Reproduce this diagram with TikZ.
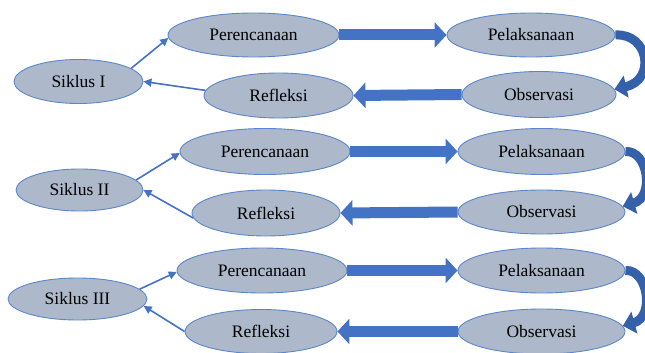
\documentclass[tikz,border=0pt]{standalone}
\usepackage{fontspec}
\setmainfont{Liberation Serif}
\usetikzlibrary{shapes.geometric,arrows.meta}
\definecolor{ellfill}{HTML}{ADB9CA}
\definecolor{elldraw}{HTML}{5B86CC}
\definecolor{thick}{HTML}{4472C4}
\definecolor{curve}{HTML}{3561AA}
\tikzset{
  ell/.style={ellipse, draw=elldraw, fill=ellfill, line width=0.9pt, inner sep=0pt,
    font=\fontsize{17.5}{20}\selectfont, text=black},
  thinarrow/.style={draw=thick, line width=1.6pt, -{Triangle[length=8pt,width=8pt]}},
  blockarrow/.style={draw=thick, line width=11pt, -{Triangle[length=12pt,width=25pt]}},
  curvearrow/.style={draw=curve, line width=9pt, -{Triangle[length=12pt,width=22pt]}}
}
\begin{document}
\begin{tikzpicture}[x=1pt,y=-1pt]
\useasboundingbox (0,0) rectangle (645,353);
% cycle I
\node[ell, minimum width=129pt, minimum height=44pt] (S1) at (78.5,81.5) {Siklus I};
\node[ell, minimum width=171pt, minimum height=44pt] (P1) at (253.5,35) {Perencanaan};
\node[ell, minimum width=149pt, minimum height=45pt] (R1) at (278.5,95.5) {Refleksi};
\node[ell, minimum width=168pt, minimum height=44pt] (L1) at (531,35) {Pelaksanaan};
\node[ell, minimum width=154pt, minimum height=46pt] (O1) at (539,94.5) {Observasi};
% cycle II
\node[ell, minimum width=127pt, minimum height=42pt] (S2) at (79.5,190) {Siklus II};
\node[ell, minimum width=170pt, minimum height=46pt] (P2) at (265,151.5) {Perencanaan};
\node[ell, minimum width=148pt, minimum height=46pt] (R2) at (266,213) {Refleksi};
\node[ell, minimum width=167pt, minimum height=46pt] (L2) at (541.5,151.5) {Pelaksanaan};
\node[ell, minimum width=167pt, minimum height=44pt] (O2) at (541.5,212) {Observasi};
% cycle III
\node[ell, minimum width=139pt, minimum height=42pt] (S3) at (77.5,299) {Siklus III};
\node[ell, minimum width=170pt, minimum height=45pt] (P3) at (262,270.5) {Perencanaan};
\node[ell, minimum width=152pt, minimum height=44pt] (R3) at (261,331.5) {Refleksi};
\node[ell, minimum width=167pt, minimum height=45pt] (L3) at (541.5,270.5) {Pelaksanaan};
\node[ell, minimum width=167pt, minimum height=45pt] (O3) at (541.5,331.5) {Observasi};
% thin arrows
\draw[thinarrow] (S1.14) -- (P1.182);
\draw[thinarrow] (R1.176) -- (S1.east);
\draw[thinarrow] (S2.10) -- (P2.181);
\draw[thinarrow] (R2.184) -- (S2.east);
\draw[thinarrow] (S3.9) -- (P3.181);
\draw[thinarrow] (R3.180) -- (S3.-6);
% block arrows
\draw[blockarrow] (P1.east) -- (L1.west);
\draw[blockarrow] (O1.west) -- (R1.east);
\draw[blockarrow] (P2.east) -- (L2.west);
\draw[blockarrow] (O2.west) -- (R2.east);
\draw[blockarrow] (P3.east) -- (L3.west);
\draw[blockarrow] (O3.west) -- (R3.east);
% curved arrows
\draw[curvearrow] (L1.east) .. controls (649,33) and (656,80) .. (O1.4);
\draw[curvearrow] (L2.east) .. controls (648,150) and (655,197) .. (O2.4);
\draw[curvearrow] (L3.east) .. controls (648,269) and (655,317) .. (O3.4);
\end{tikzpicture}
\end{document}
